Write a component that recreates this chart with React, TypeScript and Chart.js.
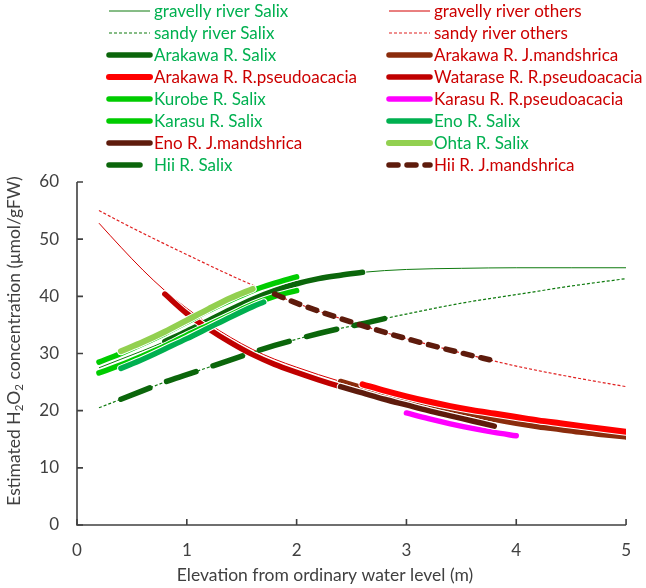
import React, { useEffect, useRef } from 'react';
import { Chart, registerables } from 'chart.js';

Chart.register(...registerables);

const FONT = 'Lato, "Open Sans", "DejaVu Sans", sans-serif';
const AXIS_COLOR = '#404040';
const GREEN_TEXT = '#00B050';
const RED_TEXT = '#CC0000';

// ---- axis ticks ----
const X_TICKS = [0, 1, 2, 3, 4, 5];
const Y_TICKS = [0, 10, 20, 30, 40, 50, 60];

// ---- fitted curves (background) ----
const gravelSalixX = [0.2, 0.4, 0.6, 0.8, 1.0, 1.2, 1.4, 1.6, 1.8, 2.0, 2.2, 2.4, 2.6, 3.0, 3.5, 4.0, 4.5, 5.0];
const gravelSalixY = [27.5, 29.0, 30.5, 32.1, 33.9, 35.8, 37.7, 39.5, 41.0, 42.2, 43.1, 43.7, 44.2, 44.7, 44.9, 45.0, 45.0, 45.0];

const gravelOthersX = [0.2, 0.4, 0.6, 0.8, 1.0, 1.2, 1.4, 1.6, 1.8, 2.0, 2.2, 2.4, 2.6, 2.8, 3.0, 3.2, 3.4, 3.6, 3.8, 4.0, 4.2, 4.4, 4.6, 4.8, 5.0];
const gravelOthersY = [52.8, 48.6, 44.6, 41.0, 37.9, 35.2, 32.8, 30.7, 29.0, 27.6, 26.3, 25.1, 24.0, 22.9, 21.9, 21.0, 20.1, 19.3, 18.5, 17.8, 17.2, 16.7, 16.2, 15.8, 15.4];

const sandySalixX = [0.2, 0.4, 0.6, 0.8, 1.0, 1.2, 1.4, 1.6, 1.8, 2.0, 2.2, 2.4, 2.6, 2.8, 3.0, 3.5, 4.0, 4.5, 5.0];
const sandySalixY = [20.5, 22.0, 23.5, 25.0, 26.3, 27.6, 28.9, 30.2, 31.4, 32.5, 33.5, 34.4, 35.2, 36.1, 36.9, 38.8, 40.3, 41.8, 43.1];

const sandyOthersX = [0.2, 0.5, 1.0, 1.5, 2.0, 2.5, 3.0, 3.5, 4.0, 4.5, 5.0];
const sandyOthersY = [55.0, 52.0, 47.3, 42.8, 38.8, 35.5, 32.6, 30.1, 27.8, 25.9, 24.2];

// ---- river series ----
const arakawaSalixX = [0.8, 1.0, 1.2, 1.4, 1.6, 1.8, 2.0, 2.2, 2.4, 2.6];
const arakawaSalixY = [32.1, 33.9, 35.8, 37.7, 39.5, 41.0, 42.2, 43.1, 43.7, 44.2];

const arakawaJmX = [2.4, 2.6, 2.8, 3.0, 3.2, 3.4, 3.6, 3.8, 4.0, 4.2, 4.4, 4.6, 4.8, 5.0];
const arakawaJmY = [25.1, 24.0, 22.9, 21.9, 21.0, 20.1, 19.3, 18.5, 17.8, 17.2, 16.7, 16.2, 15.8, 15.4];

const arakawaRpX = [2.6, 2.8, 3.0, 3.2, 3.4, 3.6, 3.8, 4.0, 4.2, 4.4, 4.6, 4.8, 5.0];
const arakawaRpY = [24.6, 23.5, 22.5, 21.6, 20.8, 20.1, 19.5, 18.9, 18.3, 17.8, 17.3, 16.8, 16.3];

const wataraseRpX = [0.8, 1.0, 1.2, 1.4, 1.6, 1.8, 2.0, 2.2, 2.4, 2.6, 2.8, 3.0, 3.2, 3.4, 3.6, 3.8];
const wataraseRpY = [40.4, 37.0, 34.3, 31.9, 29.8, 28.1, 26.7, 25.4, 24.2, 23.1, 22.0, 21.0, 20.0, 19.1, 18.2, 17.3];

const kurobeSalixX = [0.2, 0.4, 0.6, 0.8, 1.0, 1.2, 1.4, 1.6, 1.8, 2.0];
const kurobeSalixY = [28.5, 30.0, 31.7, 33.5, 35.5, 37.5, 39.3, 41.0, 42.3, 43.4];

const karasuRpX = [3.0, 3.2, 3.4, 3.6, 3.8, 4.0];
const karasuRpY = [19.6, 18.6, 17.7, 16.9, 16.2, 15.6];

const karasuSalixX = [0.2, 0.4, 0.6, 0.8, 1.0, 1.2, 1.4, 1.6, 1.8, 2.0];
const karasuSalixY = [26.6, 28.0, 29.6, 31.3, 33.2, 35.0, 36.8, 38.6, 40.0, 41.0];

const enoSalixX = [0.4, 0.6, 0.8, 1.0, 1.2, 1.4, 1.6, 1.7];
const enoSalixY = [27.4, 29.0, 30.8, 32.6, 34.5, 36.4, 38.2, 39.0];

const enoJmX = [2.4, 2.6, 2.8, 3.0, 3.2, 3.4, 3.6, 3.8];
const enoJmY = [24.2, 23.1, 22.0, 21.0, 20.0, 19.1, 18.2, 17.3];

const ohtaSalixX = [0.4, 0.6, 0.8, 1.0, 1.2, 1.4, 1.6];
const ohtaSalixY = [30.4, 32.0, 33.8, 35.8, 37.8, 39.7, 41.3];

const hiiSalixX = [0.4, 0.6, 0.8, 1.0, 1.2, 1.4, 1.6, 1.8, 2.0, 2.2, 2.4, 2.6, 2.8];
const hiiSalixY = [22.0, 23.5, 25.0, 26.3, 27.6, 28.9, 30.2, 31.4, 32.5, 33.5, 34.4, 35.2, 36.1];

const hiiJmX = [1.8, 2.0, 2.5, 3.0, 3.5, 3.8];
const hiiJmY = [40.4, 38.8, 35.5, 32.6, 30.1, 28.7];

type SeriesDef = {
  label: string;
  xs: number[];
  ys: number[];
  color: string;
  width: number;
  dash: number[];
  text: string;
};

const SERIES: SeriesDef[] = [
  { label: 'gravelly river Salix', xs: gravelSalixX, ys: gravelSalixY, color: '#0E7A0E', width: 1, dash: [], text: GREEN_TEXT },
  { label: 'gravelly river others', xs: gravelOthersX, ys: gravelOthersY, color: '#D40000', width: 1, dash: [], text: RED_TEXT },
  { label: 'sandy river Salix', xs: sandySalixX, ys: sandySalixY, color: '#0E7A0E', width: 1.2, dash: [3, 2], text: GREEN_TEXT },
  { label: 'sandy river others', xs: sandyOthersX, ys: sandyOthersY, color: '#E02020', width: 1.2, dash: [3, 2], text: RED_TEXT },
  { label: 'Arakawa R. Salix', xs: arakawaSalixX, ys: arakawaSalixY, color: '#0B660B', width: 5.5, dash: [], text: GREEN_TEXT },
  { label: 'Arakawa R. J.mandshrica', xs: arakawaJmX, ys: arakawaJmY, color: '#8B2C0C', width: 5.5, dash: [], text: RED_TEXT },
  { label: 'Arakawa R. R.pseudoacacia', xs: arakawaRpX, ys: arakawaRpY, color: '#FF0000', width: 6, dash: [], text: RED_TEXT },
  { label: 'Watarase R. R.pseudoacacia', xs: wataraseRpX, ys: wataraseRpY, color: '#C00000', width: 5.5, dash: [], text: RED_TEXT },
  { label: 'Kurobe R. Salix', xs: kurobeSalixX, ys: kurobeSalixY, color: '#00CC00', width: 5.5, dash: [], text: GREEN_TEXT },
  { label: 'Karasu R. R.pseudoacacia', xs: karasuRpX, ys: karasuRpY, color: '#FF00FF', width: 5.5, dash: [], text: RED_TEXT },
  { label: 'Karasu R. Salix', xs: karasuSalixX, ys: karasuSalixY, color: '#00CC00', width: 5.5, dash: [], text: GREEN_TEXT },
  { label: 'Eno R. Salix', xs: enoSalixX, ys: enoSalixY, color: '#00B050', width: 5.5, dash: [], text: GREEN_TEXT },
  { label: 'Eno R. J.mandshrica', xs: enoJmX, ys: enoJmY, color: '#5E1B0C', width: 5.5, dash: [], text: RED_TEXT },
  { label: 'Ohta R. Salix', xs: ohtaSalixX, ys: ohtaSalixY, color: '#92D050', width: 6, dash: [], text: GREEN_TEXT },
  { label: 'Hii R. Salix', xs: hiiSalixX, ys: hiiSalixY, color: '#0B660B', width: 5.5, dash: [31, 18], text: GREEN_TEXT },
  { label: 'Hii R. J.mandshrica', xs: hiiJmX, ys: hiiJmY, color: '#5E1B0C', width: 5.5, dash: [9, 9], text: RED_TEXT },
];

const outlinePlugin = {
  id: 'whiteOutline',
  beforeDatasetDraw(chart: any, args: any) {
    const ds = chart.data.datasets[args.index];
    if (!ds.outline) return;
    const pts = args.meta.data;
    const ctx = chart.ctx;
    ctx.save();
    ctx.beginPath();
    pts.forEach((p: any, i: number) => {
      if (i === 0) ctx.moveTo(p.x, p.y);
      else {
        const q = pts[i - 1];
        ctx.bezierCurveTo(q.cp2x ?? q.x, q.cp2y ?? q.y, p.cp1x ?? p.x, p.cp1y ?? p.y, p.x, p.y);
      }
    });
    ctx.strokeStyle = '#ffffff';
    ctx.lineWidth = ds.borderWidth + 2;
    ctx.lineCap = 'round';
    ctx.lineJoin = 'round';
    ctx.stroke();
    ctx.restore();
  },
};

const axesPlugin = {
  id: 'axesAndText',
  beforeDatasetsDraw(chart: any) {
    const { ctx, chartArea: a, scales } = chart;
    ctx.save();
    ctx.strokeStyle = AXIS_COLOR;
    ctx.lineWidth = 1.6;
    ctx.beginPath();
    ctx.moveTo(a.left, a.top);
    ctx.lineTo(a.left, a.bottom);
    ctx.lineTo(a.right, a.bottom);
    ctx.stroke();
    ctx.beginPath();
    X_TICKS.forEach((v) => {
      const px = scales.x.getPixelForValue(v);
      ctx.moveTo(px, a.bottom);
      ctx.lineTo(px, a.bottom - 6);
    });
    Y_TICKS.forEach((v) => {
      const py = scales.y.getPixelForValue(v);
      ctx.moveTo(a.left, py);
      ctx.lineTo(a.left + 6, py);
    });
    ctx.stroke();
    ctx.restore();
  },
  afterDraw(chart: any) {
    const { ctx, chartArea: a } = chart;
    ctx.save();
    // x title
    ctx.fillStyle = AXIS_COLOR;
    ctx.font = `17.5px ${FONT}`;
    ctx.textAlign = 'center';
    ctx.textBaseline = 'middle';
    ctx.fillText('Elevation from ordinary water level (m)', 325, 575);

    // y title with subscripts
    const parts: [string, boolean][] = [
      ['Estimated H', false], ['2', true], ['O', false], ['2', true], [' concentration (\u03bcmol/gFW)', false],
    ];
    const big = `17.5px ${FONT}`;
    const small = `11.5px ${FONT}`;
    let total = 0;
    parts.forEach(([t, sub]) => { ctx.font = sub ? small : big; total += ctx.measureText(t).width; });
    ctx.translate(14, 341);
    ctx.rotate(-Math.PI / 2);
    ctx.textAlign = 'left';
    ctx.textBaseline = 'alphabetic';
    let x = -total / 2;
    parts.forEach(([t, sub]) => {
      ctx.font = sub ? small : big;
      ctx.fillText(t, x, sub ? 9 : 6);
      x += ctx.measureText(t).width;
    });
    ctx.restore();

    // legend
    ctx.save();
    const datasets = chart.data.datasets;
    datasets.forEach((ds: any, i: number) => {
      const col = i % 2;
      const row = Math.floor(i / 2);
      const x0 = col === 0 ? 109 : 389;
      const x1 = x0 + 41;
      const y = 11 + row * 22;
      ctx.save();
      ctx.strokeStyle = ds.borderColor;
      ctx.lineWidth = ds.borderWidth;
      ctx.lineCap = ds.borderWidth > 2 ? 'round' : 'butt';
      ctx.setLineDash(ds.borderDash || []);
      ctx.beginPath();
      ctx.moveTo(x0, y);
      ctx.lineTo(x1, y);
      ctx.stroke();
      ctx.restore();
      ctx.fillStyle = ds.textColor;
      ctx.font = `17px ${FONT}`;
      ctx.textAlign = 'left';
      ctx.textBaseline = 'middle';
      ctx.fillText(ds.label, x1 + 4, y + 1);
    });
    ctx.restore();
  },
};

export default function App() {
  const ref = useRef<HTMLCanvasElement>(null);
  useEffect(() => {
    if (!ref.current) return;
    const n = SERIES.length;
    const chart = new Chart(ref.current, {
      type: 'line',
      data: {
        datasets: SERIES.map((s, i) => ({
          label: s.label,
          data: s.xs.map((x, j) => ({ x, y: s.ys[j] })),
          borderColor: s.color,
          backgroundColor: s.color,
          borderWidth: s.width,
          borderDash: s.dash,
          borderCapStyle: s.width > 2 ? 'round' : 'butt',
          borderJoinStyle: 'round',
          pointRadius: 0,
          pointHoverRadius: 0,
          fill: false,
          cubicInterpolationMode: 'monotone',
          order: n - i,
          outline: s.width > 2 && s.dash.length === 0,
          textColor: s.text,
        })) as any,
      },
      options: {
        responsive: false,
        animation: false,
        events: [],
        layout: { padding: { top: 182, right: 19, left: 0, bottom: 0 } },
        plugins: { legend: { display: false }, tooltip: { enabled: false }, title: { display: false } },
        scales: {
          x: {
            type: 'linear',
            min: 0,
            max: 5,
            afterFit: (s: any) => { s.height = 63; },
            afterBuildTicks: (s: any) => { s.ticks = X_TICKS.map((v) => ({ value: v })); },
            grid: { display: false, drawTicks: false },
            border: { display: false },
            ticks: { color: AXIS_COLOR, font: { family: FONT, size: 17 }, padding: 15, maxRotation: 0 },
          },
          y: {
            type: 'linear',
            min: 0,
            max: 60,
            afterFit: (s: any) => { s.width = 77; },
            afterBuildTicks: (s: any) => { s.ticks = Y_TICKS.map((v) => ({ value: v })); },
            grid: { display: false, drawTicks: false },
            border: { display: false },
            ticks: { color: AXIS_COLOR, font: { family: FONT, size: 17 }, padding: 18 },
          },
        },
      },
      plugins: [outlinePlugin, axesPlugin],
    } as any);
    return () => chart.destroy();
  }, []);
  return (
    <div style={{ position: 'fixed', left: 0, top: 0, width: 646, height: 588, background: '#fff' }}>
      <canvas ref={ref} width={646} height={588} style={{ display: 'block', width: 646, height: 588 }} />
    </div>
  );
}
